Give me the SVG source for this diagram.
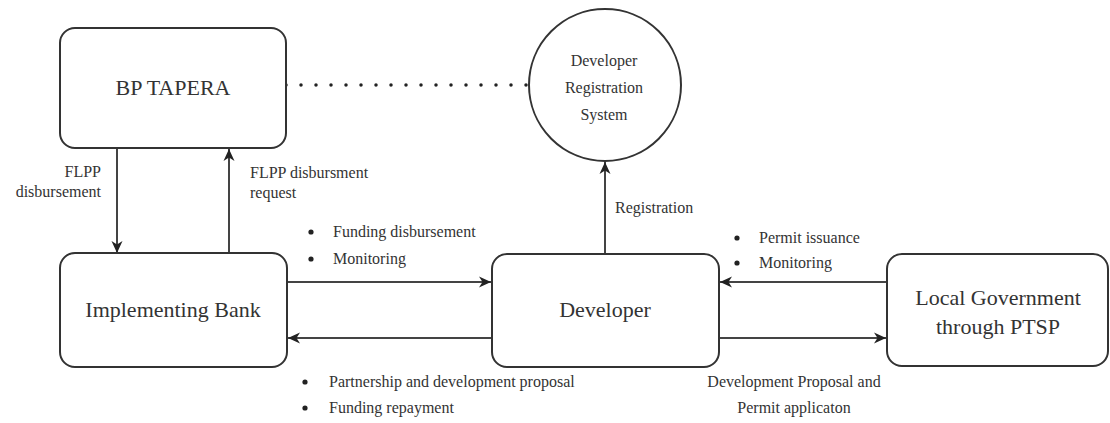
<svg xmlns="http://www.w3.org/2000/svg" width="1110" height="423" viewBox="0 0 1110 423">
  <defs>
    <marker id="arr" markerUnits="userSpaceOnUse" markerWidth="14" markerHeight="12" refX="12" refY="6" orient="auto">
      <path d="M0,0.5 L12,6 L0,11.5 L3.5,6 Z" fill="#222"/>
    </marker>
    <style>
      .box { fill: #fff; stroke: #333; stroke-width: 2; }
      .conn { fill: none; stroke: #444; stroke-width: 2; marker-end: url(#arr); }
      .dot { fill: none; stroke: #222; stroke-width: 3.5; stroke-linecap: round; stroke-dasharray: 0 15; }
      .lbl { font-family: "Liberation Serif", "Times New Roman", serif; font-size: 22px; fill: #333; text-anchor: middle; }
      .sm { font-family: "Liberation Serif", "Times New Roman", serif; font-size: 16px; fill: #333; }
      .mid { text-anchor: middle; }
      .end { text-anchor: end; }
      .bul { fill: #222; }
    </style>
  </defs>
  <rect width="1110" height="423" fill="#fff"/>

  <g id="connectors">
    <line class="dot" x1="286" y1="85" x2="528" y2="85"/>
    <line class="conn" x1="117" y1="148" x2="117" y2="253"/>
    <line class="conn" x1="229" y1="253" x2="229" y2="149"/>
    <line class="conn" x1="605" y1="254" x2="605" y2="162"/>
    <line class="conn" x1="287" y1="282" x2="491" y2="282"/>
    <line class="conn" x1="492" y1="338" x2="288" y2="338"/>
    <line class="conn" x1="887" y1="282" x2="720" y2="282"/>
    <line class="conn" x1="719" y1="338" x2="886" y2="338"/>
  </g>

  <g id="bp-tapera">
    <rect class="box" x="60" y="28" width="226" height="120" rx="15"/>
    <text class="lbl" x="173" y="95">BP TAPERA</text>
  </g>

  <g id="registration-system">
    <circle class="box" cx="605" cy="85" r="76"/>
    <text class="sm mid" x="604" y="66">Developer</text>
    <text class="sm mid" x="604" y="93">Registration</text>
    <text class="sm mid" x="604" y="120">System</text>
  </g>

  <g id="implementing-bank">
    <rect class="box" x="60" y="253" width="227" height="114" rx="15"/>
    <text class="lbl" x="173" y="317">Implementing Bank</text>
  </g>

  <g id="developer">
    <rect class="box" x="492" y="254" width="227" height="113" rx="15"/>
    <text class="lbl" x="605" y="317">Developer</text>
  </g>

  <g id="local-government">
    <rect class="box" x="887" y="254" width="221" height="112" rx="15"/>
    <text class="lbl" x="998" y="305">Local Government</text>
    <text class="lbl" x="998" y="334">through PTSP</text>
  </g>

  <g id="labels">
    <text class="sm end" x="101" y="177">FLPP</text>
    <text class="sm end" x="101" y="197">disbursement</text>

    <text class="sm" x="250" y="178">FLPP disbursment</text>
    <text class="sm" x="250" y="198">request</text>

    <circle class="bul" cx="311" cy="232" r="2.6"/>
    <text class="sm" x="333" y="237">Funding disbursement</text>
    <circle class="bul" cx="311" cy="259" r="2.6"/>
    <text class="sm" x="333" y="264">Monitoring</text>

    <text class="sm" x="615" y="213">Registration</text>

    <circle class="bul" cx="737" cy="238" r="2.6"/>
    <text class="sm" x="759" y="243">Permit issuance</text>
    <circle class="bul" cx="737" cy="263" r="2.6"/>
    <text class="sm" x="759" y="268">Monitoring</text>

    <circle class="bul" cx="305" cy="382" r="2.6"/>
    <text class="sm" x="329" y="387">Partnership and development proposal</text>
    <circle class="bul" cx="305" cy="408" r="2.6"/>
    <text class="sm" x="329" y="413">Funding repayment</text>

    <text class="sm mid" x="794" y="387">Development Proposal and</text>
    <text class="sm mid" x="794" y="413">Permit applicaton</text>
  </g>
</svg>
